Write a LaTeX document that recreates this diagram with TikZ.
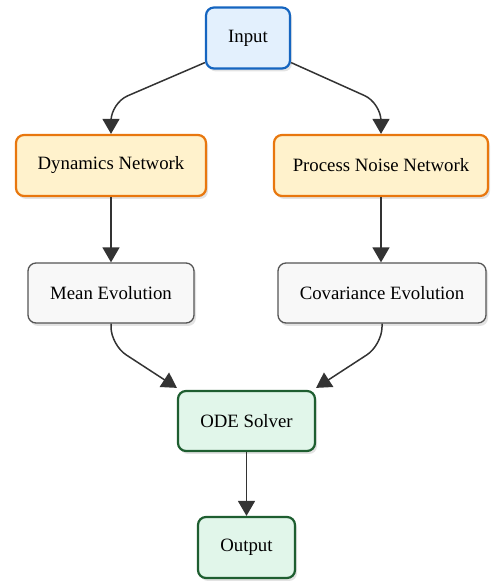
\documentclass[tikz,border=0pt]{standalone}
\usepackage{fontspec}
\setmainfont{Liberation Serif}
\usetikzlibrary{shadows,arrows.meta,calc}
\definecolor{bluefill}{HTML}{E3F0FD}
\definecolor{blueline}{HTML}{1565C0}
\definecolor{orfill}{HTML}{FFF2CC}
\definecolor{orline}{HTML}{E8770E}
\definecolor{grfill}{HTML}{F8F8F8}
\definecolor{grline}{HTML}{555555}
\definecolor{gnfill}{HTML}{E1F6EA}
\definecolor{gnline}{HTML}{1E5E30}
\definecolor{arrcol}{HTML}{333333}
\begin{document}
\begin{tikzpicture}[x=1pt,y=1pt,
  box/.style={rounded corners=8pt, align=center, inner sep=0pt,
    font=\fontsize{18.8}{22}\selectfont,
    drop shadow={opacity=0.22, shadow xshift=2pt, shadow yshift=-3pt}},
  bluebox/.style={box, fill=bluefill, draw=blueline, line width=2.2pt},
  orbox/.style={box, fill=orfill, draw=orline, line width=2.2pt},
  graybox/.style={box, fill=grfill, draw=grline, line width=1.3pt},
  greenbox/.style={box, fill=gnfill, draw=gnline, line width=2.2pt},
  arr/.style={draw=arrcol, line width=1.5pt, rounded corners=18pt,
    -{Triangle[length=15pt,width=17pt]}}]
\useasboundingbox (0,0) rectangle (492,581);
\node[bluebox, minimum width=84pt, minimum height=61pt] (in) at (248,543) {Input};
\node[orbox, minimum width=190pt, minimum height=61pt] (dyn) at (111,415.5) {Dynamics Network};
\node[orbox, minimum width=214pt, minimum height=61pt] (pn) at (381,415.5) {Process Noise Network};
\node[graybox, minimum width=166pt, minimum height=60pt] (mean) at (111,288) {Mean Evolution};
\node[graybox, minimum width=208pt, minimum height=60pt] (cov) at (382,288) {Covariance Evolution};
\node[greenbox, minimum width=137pt, minimum height=60pt] (ode) at (246.5,160) {ODE Solver};
\node[greenbox, minimum width=97pt, minimum height=61pt] (out) at (246.5,33.5) {Output};
\coordinate (c1) at (dyn.north |- 0,478);
\coordinate (c2) at (pn.north |- 0,478);
\coordinate (c3) at (mean.south |- 0,236);
\coordinate (c4) at (cov.south |- 0,236);
\draw[arr] ($(in.south west)+(0,7)$) -- (c1) -- (dyn.north);
\draw[arr] ($(in.south east)+(0,7)$) -- (c2) -- (pn.north);
\draw[arr] (dyn.south) -- (dyn.south |- mean.north);
\draw[arr] (pn.south) -- (pn.south |- cov.north);
\draw[arr] (mean.south) -- (c3) -- ($(ode.north west)+(0,2)$);
\draw[arr] (cov.south) -- (c4) -- ($(ode.north east)+(0,2)$);
\draw[arr] (ode.south) -- (out.north);
\end{tikzpicture}
\end{document}
